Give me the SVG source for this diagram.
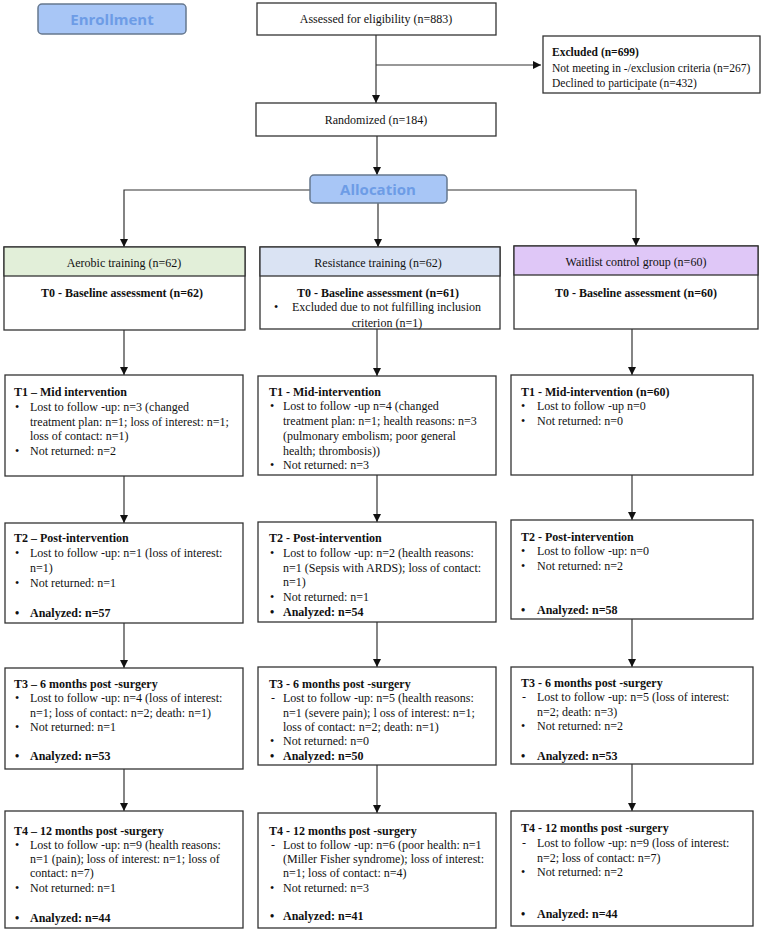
<svg xmlns="http://www.w3.org/2000/svg" width="778" height="933" viewBox="0 0 778 933">
<style>
text{font-family:"Liberation Serif","Times New Roman",serif;font-size:12px;fill:#111}
.b{font-weight:bold}
.m{text-anchor:middle}
.s{font-size:11.5px}
.box{fill:#fff;stroke:#333;stroke-width:1.3}
.lab{fill:#a8c6f6;stroke:#66788f;stroke-width:1.5}
.labt{font-family:"Open Sans","DejaVu Sans",sans-serif;font-weight:bold;font-size:15px;fill:#6d9ce6;text-anchor:middle}
.c{fill:none;stroke:#333;stroke-width:1.2}
</style>
<defs>
<marker id="ah" markerWidth="8" markerHeight="8" refX="8" refY="4" orient="auto" markerUnits="userSpaceOnUse">
<path d="M0,0 L8,4 L0,8 z" fill="#111"/>
</marker>
</defs>
<g id="connectors">
<path class="c" d="M376,35 V103" marker-end="url(#ah)"/>
<path class="c" d="M376,65 H541" marker-end="url(#ah)"/>
<path class="c" d="M377,136 V175" marker-end="url(#ah)"/>
<path class="c" d="M310,190 H124 V247" marker-end="url(#ah)"/>
<path class="c" d="M378,203 V247" marker-end="url(#ah)"/>
<path class="c" d="M447,190 H636 V246" marker-end="url(#ah)"/>
<path class="c" d="M124,330 V375" marker-end="url(#ah)"/>
<path class="c" d="M124,476 V523" marker-end="url(#ah)"/>
<path class="c" d="M124,623 V668" marker-end="url(#ah)"/>
<path class="c" d="M124,769 V811" marker-end="url(#ah)"/>
<path class="c" d="M377,329 V376" marker-end="url(#ah)"/>
<path class="c" d="M377,475 V522" marker-end="url(#ah)"/>
<path class="c" d="M377,622 V667" marker-end="url(#ah)"/>
<path class="c" d="M377,765 V813" marker-end="url(#ah)"/>
<path class="c" d="M632,329 V375" marker-end="url(#ah)"/>
<path class="c" d="M632,475 V520" marker-end="url(#ah)"/>
<path class="c" d="M632,619 V667" marker-end="url(#ah)"/>
<path class="c" d="M632,764 V811" marker-end="url(#ah)"/>
</g>
<g id="enrollment">
<rect class="lab" x="38" y="4" width="148" height="30" rx="4"/>
<text class="labt" x="112" y="25">Enrollment</text>
</g>
<g id="assessed">
<rect class="box" x="257" y="3" width="239" height="32"/>
<text class="m" x="376" y="23">Assessed for eligibility (n=883)</text>
</g>
<g id="excluded">
<rect class="box" x="543" y="36" width="217" height="57"/>
<text class="b s" x="552" y="56">Excluded (n=699)</text>
<text class="s" x="552" y="72">Not meeting in -/exclusion criteria (n=267)</text>
<text class="s" x="552" y="87">Declined to participate (n=432)</text>
</g>
<g id="randomized">
<rect class="box" x="256" y="103" width="240" height="33"/>
<text class="m" x="376" y="124">Randomized (n=184)</text>
</g>
<g id="allocation">
<rect class="lab" x="310" y="175" width="137" height="28" rx="4"/>
<text class="labt" x="378" y="195">Allocation</text>
</g>
<g id="aerobic">
<rect class="box" x="4" y="247" width="241" height="83"/>
<rect x="4" y="247" width="241" height="29" fill="#e2efd9" stroke="#333" stroke-width="1.3"/>
<text class="m" x="124" y="267">Aerobic training (n=62)</text>
<text class="m b" x="122" y="297">T0 - Baseline assessment (n=62)</text>
</g>
<g id="resistance">
<rect class="box" x="260" y="247" width="240" height="82"/>
<rect x="260" y="247" width="240" height="29" fill="#dae3f3" stroke="#333" stroke-width="1.3"/>
<text class="m" x="378" y="267">Resistance training (n=62)</text>
<text class="m b" x="378" y="297">T0 - Baseline assessment (n=61)</text>
<text x="274" y="311">•</text>
<text x="292" y="311">Excluded due to not fulfilling inclusion</text>
<text class="m" x="387" y="327">criterion (n=1)</text>
</g>
<g id="waitlist">
<rect class="box" x="514" y="246" width="244" height="83"/>
<rect x="514" y="246" width="244" height="29" fill="#dfc7f7" stroke="#333" stroke-width="1.3"/>
<text class="m" x="636" y="266">Waitlist control group (n=60)</text>
<text class="m b" x="636" y="297">T0 - Baseline assessment (n=60)</text>
</g>
<g id="aer-t1">
<rect class="box" x="5" y="375" width="238" height="101"/>
<text class="b" x="14" y="396">T1 – Mid intervention</text>
<text x="15" y="411">•</text><text x="30" y="411">Lost to follow -up: n=3 (changed</text>
<text x="30" y="426">treatment plan: n=1; loss of interest: n=1;</text>
<text x="30" y="440">loss of contact: n=1)</text>
<text x="15" y="455">•</text><text x="30" y="455">Not returned: n=2</text>
</g>
<g id="aer-t2">
<rect class="box" x="5" y="523" width="238" height="100"/>
<text class="b" x="14" y="542">T2 – Post-intervention</text>
<text x="15" y="557">•</text><text x="30" y="557">Lost to follow -up: n=1 (loss of interest:</text>
<text x="30" y="572">n=1)</text>
<text x="15" y="587">•</text><text x="30" y="587">Not returned: n=1</text>
<text class="b" x="15" y="617">•</text><text class="b" x="30" y="617">Analyzed: n=57</text>
</g>
<g id="aer-t3">
<rect class="box" x="5" y="668" width="238" height="101"/>
<text class="b" x="14" y="688">T3 – 6 months post -surgery</text>
<text x="15" y="702">•</text><text x="30" y="702">Lost to follow -up: n=4 (loss of interest:</text>
<text x="30" y="717">n=1; loss of contact: n=2; death: n=1)</text>
<text x="15" y="731">•</text><text x="30" y="731">Not returned: n=1</text>
<text class="b" x="15" y="760">•</text><text class="b" x="30" y="760">Analyzed: n=53</text>
</g>
<g id="aer-t4">
<rect class="box" x="5" y="811" width="238" height="117"/>
<text class="b" x="14" y="835">T4 – 12 months post -surgery</text>
<text x="15" y="849">•</text><text x="30" y="849">Lost to follow -up: n=9 (health reasons:</text>
<text x="30" y="863">n=1 (pain); loss of interest: n=1; loss of</text>
<text x="30" y="877">contact: n=7)</text>
<text x="15" y="892">•</text><text x="30" y="892">Not returned: n=1</text>
<text class="b" x="15" y="922">•</text><text class="b" x="30" y="922">Analyzed: n=44</text>
</g>
<g id="res-t1">
<rect class="box" x="258" y="376" width="238" height="99"/>
<text class="b" x="269" y="396">T1 - Mid-intervention</text>
<text x="270" y="410">•</text><text x="283" y="410">Lost to follow -up n=4 (changed</text>
<text x="283" y="425">treatment  plan: n=1; health reasons: n=3</text>
<text x="283" y="440">(pulmonary embolism; poor general</text>
<text x="283" y="455">health; thrombosis))</text>
<text x="270" y="469">•</text><text x="283" y="469">Not returned: n=3</text>
</g>
<g id="res-t2">
<rect class="box" x="258" y="522" width="238" height="100"/>
<text class="b" x="269" y="542">T2 - Post-intervention</text>
<text x="270" y="557">•</text><text x="283" y="557">Lost to follow -up: n=2 (health reasons:</text>
<text x="283" y="572">n=1 (Sepsis with ARDS); loss of contact:</text>
<text x="283" y="586">n=1)</text>
<text x="270" y="601">•</text><text x="283" y="601">Not returned: n=1</text>
<text class="b" x="270" y="616">•</text><text class="b" x="283" y="616">Analyzed: n=54</text>
</g>
<g id="res-t3">
<rect class="box" x="258" y="667" width="238" height="98"/>
<text class="b" x="269" y="688">T3 - 6 months post -surgery</text>
<text x="271" y="702">-</text><text x="283" y="702">Lost to follow -up: n=5 (health reasons:</text>
<text x="283" y="717">n=1 (severe pain); l oss of interest: n=1;</text>
<text x="283" y="731">loss of contact: n=2; death: n=1)</text>
<text x="270" y="745">•</text><text x="283" y="745">Not returned: n=0</text>
<text class="b" x="270" y="760">•</text><text class="b" x="283" y="760">Analyzed: n=50</text>
</g>
<g id="res-t4">
<rect class="box" x="258" y="813" width="238" height="115"/>
<text class="b" x="269" y="835">T4 - 12 months post -surgery</text>
<text x="271" y="849">-</text><text x="283" y="849">Lost to follow -up: n=6 (poor health: n=1</text>
<text x="283" y="863">(Miller Fisher syndrome); loss of interest:</text>
<text x="283" y="877">n=1; loss of contact: n=4)</text>
<text x="270" y="892">•</text><text x="283" y="892">Not returned: n=3</text>
<text class="b" x="270" y="920">•</text><text class="b" x="283" y="920">Analyzed: n=41</text>
</g>
<g id="wait-t1">
<rect class="box" x="511" y="375" width="242" height="100"/>
<text class="b" x="521" y="396">T1 - Mid-intervention (n=60)</text>
<text x="521" y="410">•</text><text x="537" y="410">Lost to follow -up n=0</text>
<text x="521" y="425">•</text><text x="537" y="425">Not returned: n=0</text>
</g>
<g id="wait-t2">
<rect class="box" x="511" y="520" width="242" height="99"/>
<text class="b" x="521" y="541">T2 - Post-intervention</text>
<text x="521" y="555">•</text><text x="537" y="555">Lost to follow -up: n=0</text>
<text x="521" y="570">•</text><text x="537" y="570">Not returned: n=2</text>
<text class="b" x="521" y="614">•</text><text class="b" x="537" y="614">Analyzed: n=58</text>
</g>
<g id="wait-t3">
<rect class="box" x="511" y="667" width="242" height="97"/>
<text class="b" x="521" y="687">T3 - 6 months post -surgery</text>
<text x="522" y="701">-</text><text x="537" y="701">Lost to follow -up: n=5 (loss of interest:</text>
<text x="537" y="716">n=2; death: n=3)</text>
<text x="521" y="730">•</text><text x="537" y="730">Not returned: n=2</text>
<text class="b" x="521" y="760">•</text><text class="b" x="537" y="760">Analyzed: n=53</text>
</g>
<g id="wait-t4">
<rect class="box" x="511" y="811" width="242" height="115"/>
<text class="b" x="521" y="832">T4 - 12 months post -surgery</text>
<text x="522" y="847">-</text><text x="537" y="847">Lost to follow -up: n=9 (loss of interest:</text>
<text x="537" y="862">n=2; loss of contact: n=7)</text>
<text x="521" y="876">•</text><text x="537" y="876">Not returned: n=2</text>
<text class="b" x="521" y="918">•</text><text class="b" x="537" y="918">Analyzed: n=44</text>
</g>
</svg>
